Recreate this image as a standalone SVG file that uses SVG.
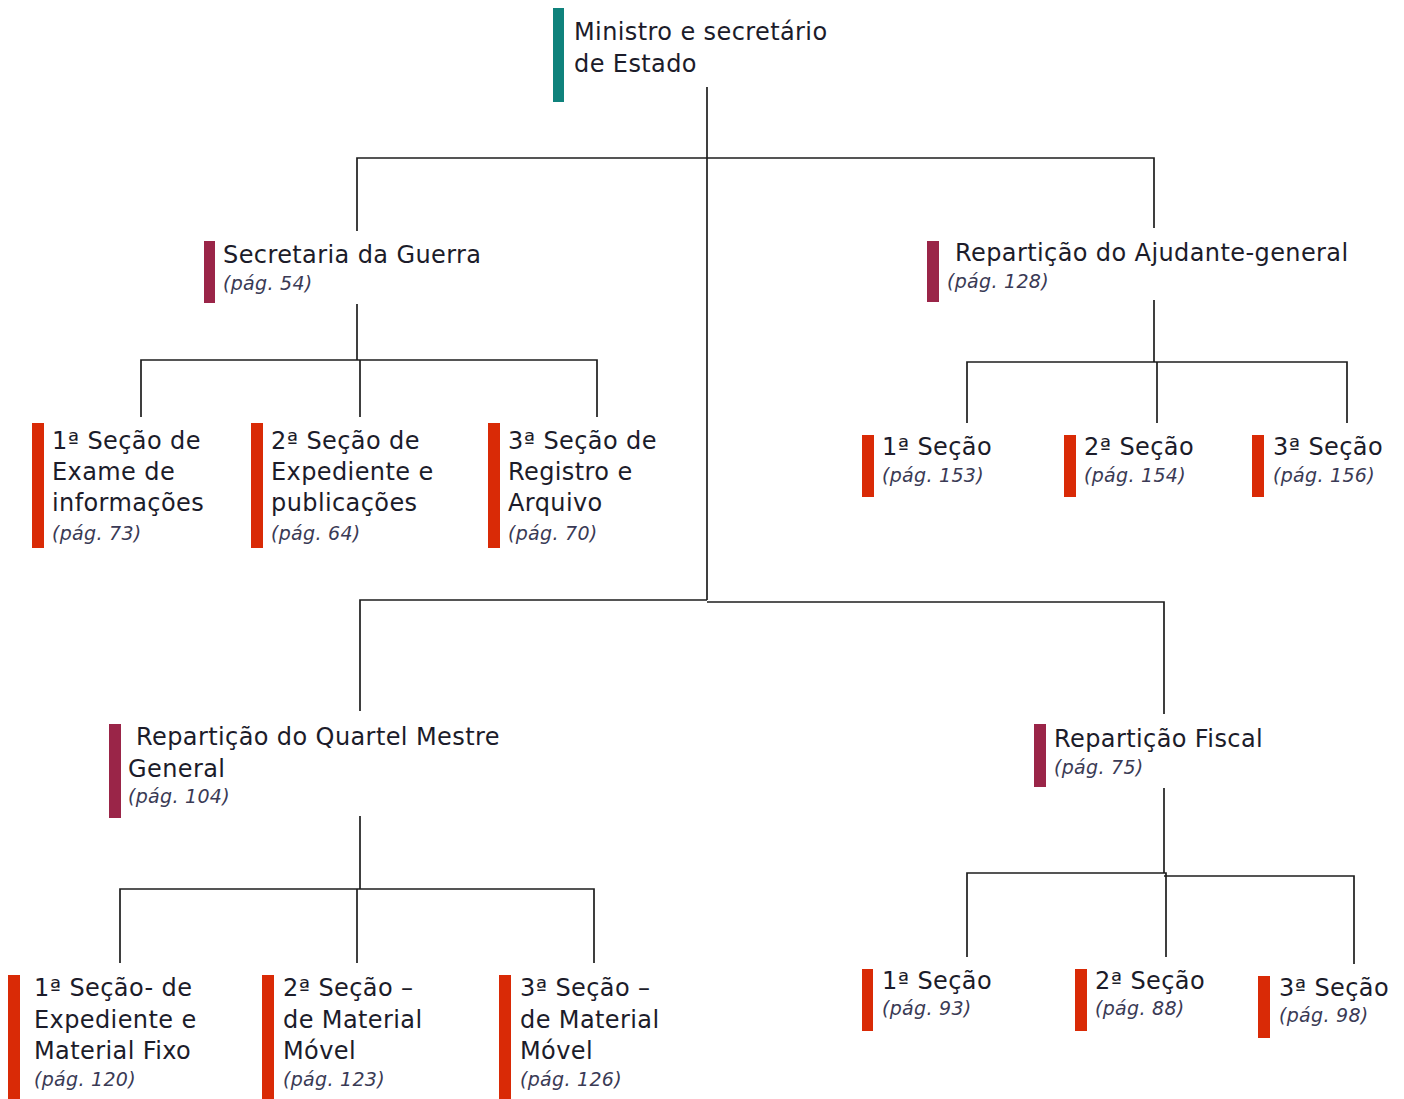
<svg xmlns="http://www.w3.org/2000/svg" width="1404" height="1099" viewBox="0 0 1404 1099">
<style>
.bg{fill:#ffffff}
.t{font-family:"DejaVu Sans","Liberation Sans",sans-serif;font-size:24px;letter-spacing:0.4px;fill:#1c1c2a}
.p{font-family:"DejaVu Sans","Liberation Sans",sans-serif;font-size:19px;font-style:italic;letter-spacing:0.3px;fill:#3a3a55}
.teal{fill:#0f827c}
.mar{fill:#9a2548}
.red{fill:#d92a06}
.c{fill:none;stroke:#1e1e1e;stroke-width:1.7}
</style>
<rect class="bg" x="0" y="0" width="1404" height="1099"/>
<g id="connectors">
<path class="c" d="M707 87 V600"/>
<path class="c" d="M357 231 V158 H1154 V228"/>
<path class="c" d="M357 304 V360"/>
<path class="c" d="M141 417 V360 H597 V417"/>
<path class="c" d="M360 360 V417"/>
<path class="c" d="M1154 300 V362"/>
<path class="c" d="M967 423 V362 H1347 V423"/>
<path class="c" d="M1157 362 V423"/>
<path class="c" d="M360 711 V600 H707"/>
<path class="c" d="M707 602 H1164 V714"/>
<path class="c" d="M360 816 V889"/>
<path class="c" d="M120 963 V889 H594 V963"/>
<path class="c" d="M357 889 V963"/>
<path class="c" d="M1164 788 V873"/>
<path class="c" d="M967 957 V873 H1166 V957"/>
<path class="c" d="M1164 876 H1354 V964"/>
</g>
<g id="ministro">
<rect class="teal" x="553" y="8" width="11" height="94"/>
<text class="t" x="574" y="40">Ministro e secretário</text>
<text class="t" x="574" y="72">de Estado</text>
</g>
<g id="secretaria">
<rect class="mar" x="204" y="241" width="11" height="62"/>
<text class="t" x="223" y="263">Secretaria da Guerra</text>
<text class="p" x="223" y="290">(pág. 54)</text>
</g>
<g id="ajudante">
<rect class="mar" x="927" y="241" width="12" height="61"/>
<text class="t" x="955" y="261">Repartição do Ajudante-general</text>
<text class="p" x="947" y="288">(pág. 128)</text>
</g>
<g id="sec-guerra-1">
<rect class="red" x="32" y="423" width="12" height="125"/>
<text class="t" x="52" y="449">1ª Seção de</text>
<text class="t" x="52" y="480">Exame de</text>
<text class="t" x="52" y="511">informações</text>
<text class="p" x="52" y="540">(pág. 73)</text>
</g>
<g id="sec-guerra-2">
<rect class="red" x="251" y="423" width="12" height="125"/>
<text class="t" x="271" y="449">2ª Seção de</text>
<text class="t" x="271" y="480">Expediente e</text>
<text class="t" x="271" y="511">publicações</text>
<text class="p" x="271" y="540">(pág. 64)</text>
</g>
<g id="sec-guerra-3">
<rect class="red" x="488" y="423" width="12" height="125"/>
<text class="t" x="508" y="449">3ª Seção de</text>
<text class="t" x="508" y="480">Registro e</text>
<text class="t" x="508" y="511">Arquivo</text>
<text class="p" x="508" y="540">(pág. 70)</text>
</g>
<g id="aj-1">
<rect class="red" x="862" y="435" width="12" height="62"/>
<text class="t" x="882" y="455">1ª Seção</text>
<text class="p" x="882" y="482">(pág. 153)</text>
</g>
<g id="aj-2">
<rect class="red" x="1064" y="435" width="12" height="62"/>
<text class="t" x="1084" y="455">2ª Seção</text>
<text class="p" x="1084" y="482">(pág. 154)</text>
</g>
<g id="aj-3">
<rect class="red" x="1252" y="435" width="12" height="62"/>
<text class="t" x="1273" y="455">3ª Seção</text>
<text class="p" x="1273" y="482">(pág. 156)</text>
</g>
<g id="quartel">
<rect class="mar" x="109" y="724" width="12" height="94"/>
<text class="t" x="136" y="745">Repartição do Quartel Mestre</text>
<text class="t" x="128" y="777">General</text>
<text class="p" x="128" y="803">(pág. 104)</text>
</g>
<g id="fiscal">
<rect class="mar" x="1034" y="724" width="12" height="63"/>
<text class="t" x="1054" y="747">Repartição Fiscal</text>
<text class="p" x="1054" y="774">(pág. 75)</text>
</g>
<g id="q-1">
<rect class="red" x="8" y="975" width="12" height="124"/>
<text class="t" x="34" y="996">1ª Seção- de</text>
<text class="t" x="34" y="1028">Expediente e</text>
<text class="t" x="34" y="1059">Material Fixo</text>
<text class="p" x="34" y="1086">(pág. 120)</text>
</g>
<g id="q-2">
<rect class="red" x="262" y="975" width="12" height="124"/>
<text class="t" x="283" y="996">2ª Seção –</text>
<text class="t" x="283" y="1028">de Material</text>
<text class="t" x="283" y="1059">Móvel</text>
<text class="p" x="283" y="1086">(pág. 123)</text>
</g>
<g id="q-3">
<rect class="red" x="499" y="975" width="12" height="124"/>
<text class="t" x="520" y="996">3ª Seção –</text>
<text class="t" x="520" y="1028">de Material</text>
<text class="t" x="520" y="1059">Móvel</text>
<text class="p" x="520" y="1086">(pág. 126)</text>
</g>
<g id="f-1">
<rect class="red" x="862" y="969" width="11" height="62"/>
<text class="t" x="882" y="989">1ª Seção</text>
<text class="p" x="882" y="1015">(pág. 93)</text>
</g>
<g id="f-2">
<rect class="red" x="1075" y="969" width="12" height="62"/>
<text class="t" x="1095" y="989">2ª Seção</text>
<text class="p" x="1095" y="1015">(pág. 88)</text>
</g>
<g id="f-3">
<rect class="red" x="1258" y="976" width="12" height="62"/>
<text class="t" x="1279" y="996">3ª Seção</text>
<text class="p" x="1279" y="1022">(pág. 98)</text>
</g>
</svg>
